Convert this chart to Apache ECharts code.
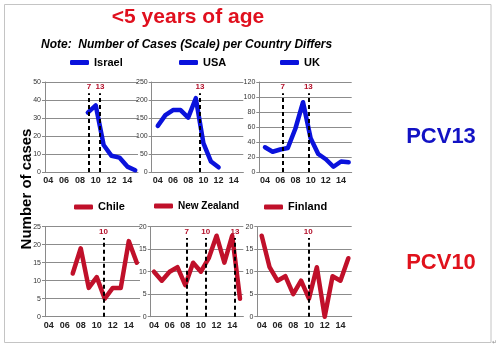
<!DOCTYPE html>
<html>
<head>
<meta charset="utf-8">
<script src="https://cdn.jsdelivr.net/npm/echarts@6/dist/echarts.min.js"></script>
<style>
  html, body { margin: 0; padding: 0; background: #fff; }
  #chart { width: 500px; height: 349px; }
</style>
</head>
<body>
<div id="chart"></div>
<script>
// Tick labels shown on every x axis (two-digit years)
const yearTicks = [2004, 2006, 2008, 2010, 2012, 2014];

// Cases in children under 5, per country
const israelYears = [2009, 2010, 2011, 2012, 2013, 2014, 2015];
const israelCases = [33, 37, 15, 9, 8, 3, 1];

const usaYears = [2004, 2005, 2006, 2007, 2008, 2009, 2010, 2011, 2012];
const usaCases = [128, 158, 172, 172, 151, 205, 80, 29, 13];

const ukYears = [2004, 2005, 2006, 2007, 2008, 2009, 2010, 2011, 2012, 2013, 2014, 2015];
const ukCases = [33, 27, 30, 32, 58, 93, 45, 24, 17, 7, 14, 13];

const chileYears = [2007, 2008, 2009, 2010, 2011, 2012, 2013, 2014, 2015];
const chileCases = [12, 19, 8, 11, 5, 8, 8, 21, 15];

const nzYears = [2004, 2005, 2006, 2007, 2008, 2009, 2010, 2011, 2012, 2013, 2014, 2015];
const nzCases = [10, 8, 10, 11, 7, 12, 10, 13, 18, 12, 18, 4];

const finlandYears = [2004, 2005, 2006, 2007, 2008, 2009, 2010, 2011, 2012, 2013, 2014, 2015];
const finlandCases = [18, 11, 8, 9, 5, 8, 4, 11, 0, 9, 8, 13];

// Vaccine introductions (PCV7 / PCV10 / PCV13): year position and label
const israelMarks = [[2009.15, '7'], [2010.54, '13']];
const usaMarks = [[2009.56, '13']];
const ukMarks = [[2006.33, '7'], [2009.7, '13']];
const chileMarks = [[2010.83, '10']];
const nzMarks = [[2008.18, '7'], [2010.61, '10'], [2014.36, '13']];
const finlandMarks = [[2009.92, '10']];

// Y-axis scales per country
const israelScale = [50, 10];
const usaScale = [250, 50];
const ukScale = [120, 20];
const chileScale = [25, 5];
const nzScale = [20, 5];
const finlandScale = [20, 5];

const BLUE = '#0a12dc';
const RED = '#c0102a';
const FONT = '"Liberation Sans", Arial, sans-serif';

const panels = [
  { name: 'Israel', years: israelYears, cases: israelCases, marks: israelMarks, scale: israelScale,
    color: BLUE, left: 45, width: 93, top: 82, xMin: 2003.58, xMax: 2015.35, legendLeft: 70, legendTop: 57, legendSize: 11 },
  { name: 'USA', years: usaYears, cases: usaCases, marks: usaMarks, scale: usaScale,
    color: BLUE, left: 151.7, width: 91.6, top: 82, xMin: 2003.2, xMax: 2015.25, legendLeft: 179, legendTop: 57, legendSize: 11 },
  { name: 'UK', years: ukYears, cases: ukCases, marks: ukMarks, scale: ukScale,
    color: BLUE, left: 259.3, width: 92.4, top: 82, xMin: 2003.25, xMax: 2015.4, legendLeft: 280, legendTop: 57, legendSize: 11 },
  { name: 'Chile', years: chileYears, cases: chileCases, marks: chileMarks, scale: chileScale,
    color: RED, left: 45, width: 95, top: 226.7, xMin: 2003.54, xMax: 2015.4, legendLeft: 74, legendTop: 201.5, legendSize: 11 },
  { name: 'New Zealand', years: nzYears, cases: nzCases, marks: nzMarks, scale: nzScale,
    color: RED, left: 150.7, width: 92.6, top: 226.7, xMin: 2003.58, xMax: 2015.42, legendLeft: 154, legendTop: 201, legendSize: 10 },
  { name: 'Finland', years: finlandYears, cases: finlandCases, marks: finlandMarks, scale: finlandScale,
    color: RED, left: 257.3, width: 94.4, top: 226.7, xMin: 2003.44, xMax: 2015.43, legendLeft: 264, legendTop: 201.5, legendSize: 11 }
];

const grid = [], xAxis = [], yAxis = [], series = [], legend = [];

panels.forEach((p, i) => {
  const yMax = p.scale[0];
  grid.push({ left: p.left, top: p.top, width: p.width, height: 90 });

  xAxis.push({
    type: 'value', gridIndex: i, min: p.xMin, max: p.xMax,
    splitLine: { show: false },
    axisLine: { show: true, lineStyle: { color: '#8a8a8a', width: 1 } },
    axisTick: { show: false },
    axisLabel: {
      customValues: yearTicks,
      formatter: v => String(Math.round(v)).slice(2),
      fontSize: 9, fontWeight: 'bold', color: '#222', fontFamily: FONT, margin: 4
    }
  });

  yAxis.push({
    type: 'value', gridIndex: i, min: 0, max: yMax, interval: p.scale[1],
    axisLine: { show: true, lineStyle: { color: '#8a8a8a', width: 1 } },
    axisTick: { show: true, length: 3, lineStyle: { color: '#8a8a8a' } },
    axisLabel: { fontSize: 7, color: '#333', fontFamily: FONT, margin: 4 },
    splitLine: { show: true, lineStyle: { color: '#8c8c8c', width: 1 } }
  });

  series.push({
    name: p.name, type: 'line', xAxisIndex: i, yAxisIndex: i,
    data: p.years.map((y, k) => [y, p.cases[k]]),
    symbol: 'none', silent: true, animation: false,
    lineStyle: { color: p.color, width: 4.5, cap: 'round', join: 'round' },
    itemStyle: { color: p.color },
    markLine: {
      silent: true, symbol: 'none', animation: false,
      lineStyle: { color: '#000', type: [4, 3], width: 2 },
      label: {
        show: true, position: 'end', formatter: '{b}', distance: 2,
        fontSize: 8, fontWeight: 'bold', color: '#b3102a', fontFamily: FONT
      },
      data: p.marks.map(m => [
        { name: m[1], coord: [m[0], 0] },
        { coord: [m[0], yMax * 0.875] }
      ])
    }
  });

  legend.push({
    data: [p.name], left: p.legendLeft, top: p.legendTop,
    icon: 'roundRect', itemWidth: 19, itemHeight: 5, itemGap: 0, padding: 0,
    selectedMode: false,
    textStyle: { fontSize: p.legendSize, fontWeight: 'bold', color: '#000', fontFamily: FONT }
  });
});

const chart = echarts.init(document.getElementById('chart'), null, { renderer: 'canvas' });
chart.setOption({
  animation: false,
  backgroundColor: '#fff',
  grid, xAxis, yAxis, series, legend,
  graphic: [
    { type: 'rect', shape: { x: 4.5, y: 4.5, width: 486.5, height: 338 },
      style: { fill: 'none', stroke: '#c4c4c4', lineWidth: 1 }, silent: true },
    { type: 'text', x: 188, y: 17,
      style: { text: '<5 years of age', fill: '#e0101e', font: 'bold 21px ' + FONT, align: 'center', verticalAlign: 'middle' } },
    { type: 'text', x: 41, y: 45,
      style: { text: 'Note:  Number of Cases (Scale) per Country Differs', fill: '#000', font: 'italic bold 12px ' + FONT, align: 'left', verticalAlign: 'middle' } },
    { type: 'text', x: 27, y: 189, rotation: Math.PI / 2,
      style: { text: 'Number of cases', fill: '#000', font: 'bold 15px ' + FONT, align: 'center', verticalAlign: 'middle' } },
    { type: 'text', x: 441, y: 137,
      style: { text: 'PCV13', fill: '#1212c4', font: 'bold 22px ' + FONT, align: 'center', verticalAlign: 'middle' } },
    { type: 'text', x: 441, y: 263,
      style: { text: 'PCV10', fill: '#e0121c', font: 'bold 22px ' + FONT, align: 'center', verticalAlign: 'middle' } },
    { type: 'text', x: 494, y: 342,
      style: { text: '↵', fill: '#888', font: '6px ' + FONT, align: 'center', verticalAlign: 'middle' } }
  ]
});
</script>
</body>
</html>
